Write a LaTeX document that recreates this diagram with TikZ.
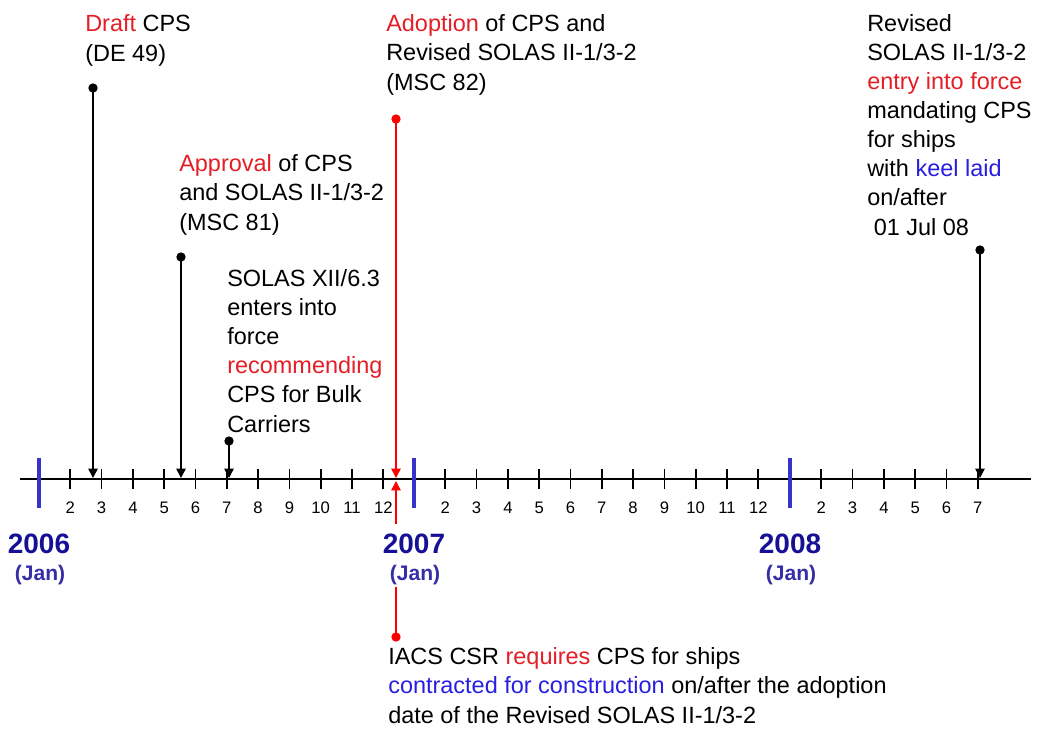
\documentclass[tikz,border=0pt]{standalone}
\usepackage{fontspec}
\setmainfont{Liberation Sans}
\usepackage{xcolor}
\usetikzlibrary{arrows.meta}

\definecolor{evred}{RGB}{228,30,38}
\definecolor{keelblue}{RGB}{40,30,225}
\definecolor{yearblue}{RGB}{22,16,150}
\definecolor{janblue}{RGB}{55,45,165}
\definecolor{barblue}{RGB}{55,50,200}

\begin{document}
\begin{tikzpicture}[
        x=0.75pt, y=-0.75pt,
        % notes are placed by the baseline of their last line
        note/.style={anchor=base west, align=left, inner sep=0pt, font=\fontsize{17.6}{21.8}\selectfont},
        dot/.style={circle, fill=black, inner sep=0pt, minimum size=7pt},
        reddot/.style={dot, fill=red},
        evarrow/.style={-{Triangle[length=7pt, width=7pt]}, line width=1.1pt},
        redarrow/.style={evarrow, draw=red},
        tick/.style={line width=1.3pt},
        yearbar/.style={draw=barblue, line width=2.6pt},
        month/.style={anchor=base, inner sep=0pt, font=\fontsize{12.5}{14}\selectfont},
        year/.style={anchor=base, fill=white, inner xsep=1pt, inner ysep=7pt, text=yearblue, font=\bfseries\fontsize{21}{24}\selectfont},
        jan/.style={anchor=base, fill=white, inner xsep=1pt, inner ysep=2pt, text=janblue, font=\bfseries\fontsize{15.8}{18}\selectfont}
    ]
    \useasboundingbox (0,0) rectangle (1038,728);

    % time axis with month ticks
    \draw[tick] (20,479) -- (1031,479);
    \foreach \bx/\last in {39/12, 414/12, 790/7}
        \foreach \m in {2,...,\last} {
            \draw[tick] ({\bx+(\m-1)*31.3},469) -- ++(0,20);
            \node[month] at ({\bx+(\m-1)*31.3},513) {\m};
        }
    \foreach \bx in {39, 414, 790}
        \draw[yearbar] (\bx,458) -- (\bx,508);

    % events
    \node[note] (draft) at (85,61) {\textcolor{evred}{Draft} CPS\\(DE 49)};
    \node[note] (approval) at (179,230) {\textcolor{evred}{Approval} of CPS\\and SOLAS II-1/3-2\\(MSC 81)};
    \node[note] (solasxii) at (227,432) {SOLAS XII/6.3\\enters into\\force\\\textcolor{evred}{recommending}\\CPS for Bulk\\Carriers};
    \node[note] (adoption) at (386,90) {\textcolor{evred}{Adoption} of CPS and\\Revised SOLAS II-1/3-2\\(MSC 82)};
    \node[note] (revised) at (867,235) {Revised\\SOLAS II-1/3-2\\\textcolor{evred}{entry into force}\\mandating CPS\\for ships\\with \textcolor{keelblue}{keel laid}\\on/after\\\ 01 Jul 08};
    \node[note] (iacs) at (388,723) {IACS CSR \textcolor{evred}{requires} CPS for ships\\\textcolor{keelblue}{contracted for construction} on/after the adoption\\date of the Revised SOLAS II-1/3-2};

    \node[dot] (draftdot) at (93,88) {};
    \node[dot] (approvaldot) at (181,257) {};
    \node[dot] (solasdot) at (229,441) {};
    \node[reddot] (adoptiondot) at (396,119) {};
    \node[dot] (reviseddot) at (980,250) {};
    \node[reddot] (iacsdot) at (396,637) {};

    \coordinate (draftat) at (93,478);
    \coordinate (approvalat) at (181,478);
    \coordinate (solasat) at (229,478);
    \coordinate (adoptionat) at (396,478);
    \coordinate (revisedat) at (980,478);
    \coordinate (iacsat) at (396,481);

    \draw[evarrow] (draftdot.center) -- (draftat);
    \draw[evarrow] (approvaldot.center) -- (approvalat);
    \draw[evarrow] (solasdot.center) -- (solasat);
    \draw[redarrow] (adoptiondot.center) -- (adoptionat);
    \draw[evarrow] (reviseddot.center) -- (revisedat);
    \draw[redarrow] (iacsdot.center) -- (iacsat);

    % year labels sit over the red line
    \foreach \bx/\yr in {39/2006, 414/2007, 790/2008} {
        \node[year] (y\yr) at (\bx,553) {\yr};
        \node[jan] (j\yr) at (\bx+1,580) {(Jan)};
    }
\end{tikzpicture}
\end{document}
